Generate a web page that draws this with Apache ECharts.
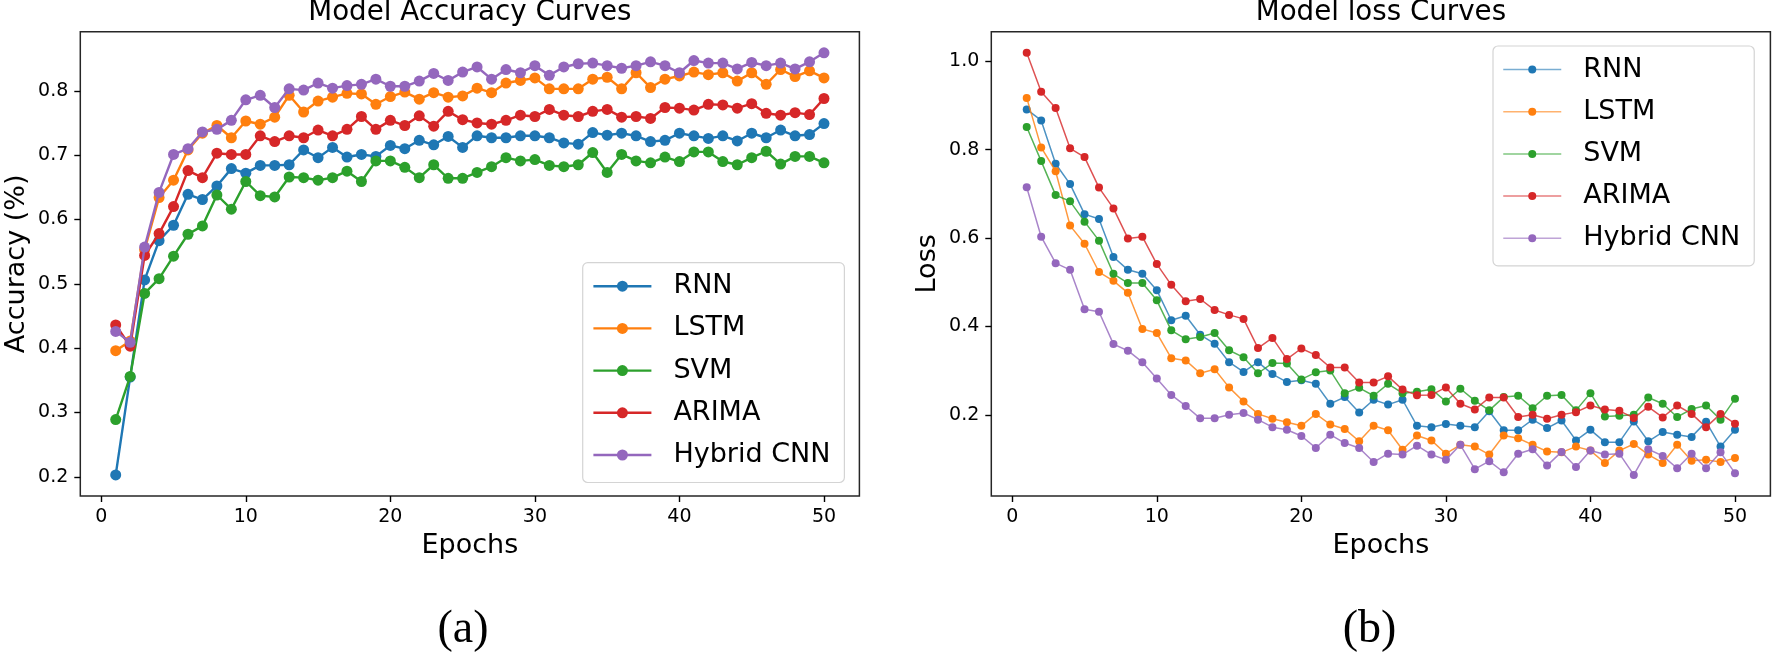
<!DOCTYPE html>
<html>
<head>
<meta charset="utf-8">
<script src="https://cdn.jsdelivr.net/npm/echarts@6/dist/echarts.min.js"></script>
<style>
html,body{margin:0;padding:0;background:#fff;}
#c{width:1774px;height:656px;}
</style>
</head>
<body>
<div id="c"></div>
<script>
const epochs = [1,2,3,4,5,6,7,8,9,10,11,12,13,14,15,16,17,18,19,20,21,22,23,24,25,26,27,28,29,30,31,32,33,34,35,36,37,38,39,40,41,42,43,44,45,46,47,48,49,50];
const modelNames = ['RNN','LSTM','SVM','ARIMA','Hybrid CNN'];
const xTicks = [0,10,20,30,40,50];
const accTicks = [0.2,0.3,0.4,0.5,0.6,0.7,0.8];
const lossTicks = [0.2,0.4,0.6,0.8,1.0];

const accRNN = [0.203,0.355,0.506,0.567,0.591,0.639,0.631,0.652,0.679,0.672,0.684,0.684,0.685,0.708,0.696,0.712,0.697,0.701,0.698,0.715,0.710,0.723,0.716,0.729,0.712,0.730,0.727,0.727,0.730,0.730,0.727,0.719,0.717,0.735,0.731,0.734,0.730,0.721,0.723,0.734,0.730,0.726,0.730,0.722,0.734,0.727,0.739,0.730,0.732,0.749];
const accLSTM = [0.396,0.411,0.553,0.634,0.661,0.708,0.734,0.746,0.727,0.753,0.748,0.759,0.793,0.767,0.784,0.790,0.796,0.795,0.779,0.791,0.798,0.787,0.797,0.790,0.792,0.804,0.797,0.812,0.816,0.820,0.803,0.803,0.803,0.818,0.821,0.803,0.828,0.805,0.818,0.823,0.829,0.825,0.828,0.815,0.828,0.810,0.833,0.822,0.831,0.820];
const accSVM = [0.289,0.356,0.485,0.508,0.543,0.577,0.590,0.638,0.616,0.659,0.637,0.635,0.666,0.665,0.661,0.665,0.675,0.659,0.691,0.691,0.681,0.665,0.685,0.664,0.664,0.673,0.682,0.696,0.691,0.693,0.684,0.682,0.685,0.704,0.673,0.701,0.691,0.688,0.697,0.690,0.705,0.705,0.690,0.685,0.696,0.706,0.686,0.698,0.698,0.688];
const accARIMA = [0.436,0.403,0.544,0.578,0.620,0.676,0.665,0.703,0.701,0.701,0.730,0.721,0.730,0.727,0.739,0.730,0.740,0.760,0.740,0.754,0.746,0.761,0.745,0.768,0.755,0.750,0.748,0.754,0.762,0.760,0.771,0.762,0.760,0.768,0.771,0.759,0.760,0.757,0.774,0.773,0.770,0.779,0.778,0.773,0.780,0.765,0.762,0.766,0.763,0.788];
const accCNN = [0.426,0.409,0.557,0.642,0.701,0.710,0.736,0.740,0.754,0.786,0.793,0.774,0.803,0.801,0.812,0.804,0.808,0.810,0.818,0.807,0.807,0.815,0.827,0.816,0.829,0.837,0.818,0.833,0.828,0.839,0.824,0.837,0.842,0.843,0.839,0.835,0.839,0.845,0.839,0.828,0.847,0.843,0.843,0.834,0.844,0.839,0.843,0.834,0.845,0.859];

const lossRNN = [0.891,0.866,0.768,0.722,0.654,0.643,0.557,0.528,0.519,0.482,0.414,0.424,0.381,0.361,0.319,0.297,0.319,0.292,0.274,0.278,0.270,0.225,0.240,0.205,0.234,0.223,0.234,0.175,0.172,0.179,0.175,0.172,0.208,0.165,0.165,0.189,0.170,0.187,0.142,0.166,0.138,0.138,0.185,0.140,0.161,0.155,0.150,0.184,0.128,0.166];
const lossLSTM = [0.917,0.805,0.751,0.628,0.587,0.523,0.503,0.476,0.394,0.385,0.328,0.323,0.294,0.303,0.262,0.230,0.202,0.191,0.183,0.175,0.202,0.178,0.168,0.140,0.175,0.165,0.121,0.153,0.142,0.112,0.132,0.128,0.110,0.153,0.147,0.132,0.117,0.115,0.128,0.119,0.091,0.119,0.134,0.110,0.091,0.132,0.096,0.098,0.093,0.102];
const lossSVM = [0.851,0.774,0.697,0.683,0.637,0.594,0.519,0.498,0.498,0.459,0.391,0.371,0.376,0.385,0.346,0.330,0.294,0.317,0.316,0.280,0.296,0.300,0.249,0.261,0.243,0.270,0.249,0.252,0.258,0.230,0.259,0.232,0.210,0.240,0.243,0.215,0.243,0.245,0.210,0.249,0.196,0.198,0.200,0.239,0.225,0.195,0.213,0.221,0.189,0.236];
const lossARIMA = [1.019,0.931,0.894,0.803,0.783,0.714,0.667,0.599,0.603,0.541,0.494,0.457,0.462,0.437,0.426,0.417,0.351,0.374,0.326,0.350,0.335,0.307,0.307,0.273,0.273,0.287,0.257,0.244,0.245,0.262,0.225,0.212,0.239,0.239,0.195,0.200,0.191,0.200,0.206,0.221,0.212,0.209,0.193,0.218,0.194,0.221,0.202,0.172,0.202,0.180];
const lossCNN = [0.715,0.603,0.543,0.528,0.439,0.433,0.360,0.345,0.319,0.282,0.245,0.220,0.192,0.192,0.200,0.204,0.189,0.172,0.166,0.152,0.125,0.155,0.136,0.125,0.093,0.112,0.110,0.130,0.110,0.098,0.132,0.077,0.095,0.070,0.112,0.122,0.085,0.116,0.082,0.119,0.110,0.112,0.064,0.122,0.107,0.079,0.112,0.079,0.115,0.068];

const colors = ['#1f77b4','#ff7f0e','#2ca02c','#d62728','#9467bd'];
const accSets = [accRNN, accLSTM, accSVM, accARIMA, accCNN];
const lossSets = [lossRNN, lossLSTM, lossSVM, lossARIMA, lossCNN];

function range5(arrs){
  let mn = Infinity, mx = -Infinity;
  arrs.forEach(a => a.forEach(v => { if (v < mn) mn = v; if (v > mx) mx = v; }));
  const r = mx - mn;
  return [mn - 0.05*r, mx + 0.05*r];
}
const xr = range5([epochs]);
const accR = range5(accSets);
const lossR = range5(lossSets);

const FONT = 'DejaVu Sans';
const G = [{left:80.3, top:31.7, width:779.1, height:464.3},{left:991.3, top:31.7, width:779.1, height:464.3}];

function xAxisDef(gi){
  return {
    type:'value', gridIndex:gi, min:xr[0], max:xr[1],
    name:'Epochs', nameLocation:'middle', nameGap:36,
    nameTextStyle:{fontFamily:FONT, fontSize:27, color:'#000'},
    axisLine:{show:false, onZero:false},
    splitLine:{show:false},
    axisTick:{show:true, inside:false, length:6, customValues:xTicks, lineStyle:{color:'#000', width:1.4}},
    axisLabel:{customValues:xTicks, margin:12, fontFamily:FONT, fontSize:19, color:'#000'}
  };
}
function yAxisDef(gi, r, ticks, name){
  return {
    type:'value', gridIndex:gi, min:r[0], max:r[1],
    name:name, nameLocation:'middle', nameGap:50, nameRotate:90,
    nameTextStyle:{fontFamily:FONT, fontSize:27, color:'#000'},
    axisLine:{show:false, onZero:false},
    splitLine:{show:false},
    axisTick:{show:true, inside:false, length:6, customValues:ticks, lineStyle:{color:'#000', width:1.4}},
    axisLabel:{customValues:ticks, margin:12, fontFamily:FONT, fontSize:19, color:'#000',
      formatter: v => v.toFixed(1)}
  };
}

const series = [];
accSets.forEach((arr, i) => {
  series.push({
    name:modelNames[i], type:'line', xAxisIndex:0, yAxisIndex:0,
    data: epochs.map((e, k) => [e, arr[k]]),
    symbol:'circle', symbolSize:11, showSymbol:true,
    lineStyle:{color:colors[i], width:2.4},
    itemStyle:{color:colors[i]},
    emphasis:{disabled:true}, z:2+i
  });
});
lossSets.forEach((arr, i) => {
  series.push({
    name:modelNames[i], type:'line', xAxisIndex:1, yAxisIndex:1,
    data: epochs.map((e, k) => [e, arr[k]]),
    symbol:'circle', symbolSize:8, showSymbol:true,
    lineStyle:{color:colors[i], width:1.5, opacity:0.8},
    itemStyle:{color:colors[i]},
    emphasis:{disabled:true}, z:2+i
  });
});

function legendDef(left, top, lineW, lineOp, iconH){
  return {
    orient:'vertical', left:left, top:top, align:'left',
    selectedMode:false,
    backgroundColor:'#fff', borderColor:'#d4d4d4', borderWidth:1.2, borderRadius:5,
    padding:[8.5, 14, 12.5, 9.5],
    itemWidth:58, itemHeight:iconH, itemGap:12.2,
    textStyle:{fontFamily:FONT, fontSize:27, color:'#000', lineHeight:30, padding:[0,0,0,17]},
    data: modelNames.map((n, i) => ({
      name:n,
      itemStyle:{color:colors[i]},
      lineStyle:{color:colors[i], width:lineW, opacity:lineOp}
    }))
  };
}

const option = {
  animation:false,
  backgroundColor:'#fff',
  grid: G.map(g => Object.assign({show:true, borderColor:'#262626', borderWidth:1.5, backgroundColor:'transparent', containLabel:false}, g)),
  xAxis:[xAxisDef(0), xAxisDef(1)],
  yAxis:[yAxisDef(0, accR, accTicks, 'Accuracy (%)'), yAxisDef(1, lossR, lossTicks, 'Loss')],
  legend:[legendDef(582.7, 262.7, 2.4, 1, 13.75), legendDef(1493, 46, 1.5, 0.6, 10)],
  series: series,
  graphic:[
    {type:'text', x:469.9, y:13, style:{text:'Model Accuracy Curves', font:'27.7px "DejaVu Sans"', fill:'#000', align:'center', verticalAlign:'middle'}},
    {type:'text', x:1380.9, y:13, style:{text:'Model loss Curves', font:'27.7px "DejaVu Sans"', fill:'#000', align:'center', verticalAlign:'middle'}},
    {type:'text', x:463, y:630, style:{text:'(a)', font:'46px "Liberation Serif"', fill:'#000', align:'center', verticalAlign:'middle'}},
    {type:'text', x:1369.6, y:630, style:{text:'(b)', font:'46px "Liberation Serif"', fill:'#000', align:'center', verticalAlign:'middle'}}
  ]
};

const chart = echarts.init(document.getElementById('c'), null, {renderer:'canvas'});
chart.setOption(option);
</script>
</body>
</html>
